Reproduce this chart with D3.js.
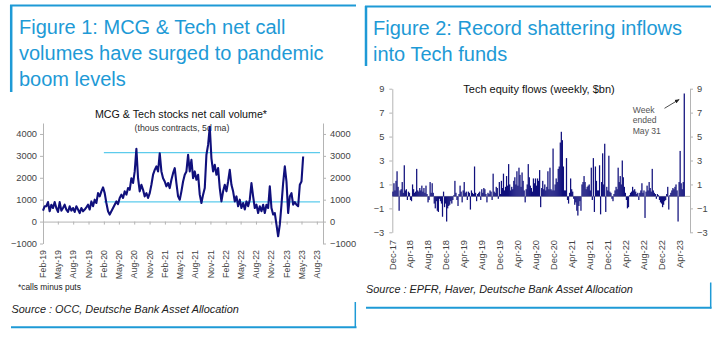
<!DOCTYPE html>
<html><head><meta charset="utf-8">
<script src="https://cdn.jsdelivr.net/npm/d3@7"></script>
<style>
html,body{margin:0;padding:0;background:#fff;}
svg{display:block;font-family:"Liberation Sans",Arial,Helvetica,sans-serif;}
</style></head><body>
<svg id="c" width="720" height="337"></svg>
<script>
// ---------- Figure 1 data ----------
const fig1TitleLines = ["Figure 1: MCG & Tech net call", "volumes have surged to pandemic", "boom levels"];
const callTitle = "MCG & Tech stocks net call volume*";
const callSubtitle = "(thous contracts, 5d ma)";
const callTickLabels = ["Feb-19","May-19","Aug-19","Nov-19","Feb-20","May-20","Aug-20","Nov-20","Feb-21","May-21","Aug-21","Nov-21","Feb-22","May-22","Aug-22","Nov-22","Feb-23","May-23","Aug-23"];
const callYTicks = [-1000, 0, 1000, 2000, 3000, 4000];
const callStart = "2019-02-01";
const callStepDays = 10;
const callVolume = [
 500,700,700,890,470,770,620,890,620,440,
 890,500,620,770,550,440,700,500,620,440,
 700,550,390,620,470,550,650,770,550,920,
 700,1000,850,1300,1150,1380,1560,1300,850,470,
 320,470,620,770,920,800,1080,1230,1080,1380,
 1230,1530,1450,1980,1760,2290,3320,1980,1380,1680,
 1450,1150,1300,1080,1300,1680,2140,2360,2520,2290,
 3120,2290,1980,1830,1610,1760,1530,1910,2210,2440,
 1760,1150,1000,1380,1830,2140,2290,3050,
 2290,2820,1980,2290,1910,2140,1230,850,1230,1530,
 3050,3500,4330,2890,2290,2590,2140,2440,1530,920,
 1380,1680,1380,1830,2360,1680,1380,920,1150,700,
 1000,620,850,550,920,700,1000,1760,1150,620,
 770,390,700,470,770,390,770,620,1610,620,
 320,390,-140,-670,-140,770,1760,2520,1830,390,
 1150,1300,770,890,770,700,1680,1830,2970
];
const callBandLevels = [3150, 900];
const callBandFrom = "2020-02-01";
const callBandTo = "2023-08-20";
const callFootnote = "*calls minus puts";
const callSource = "Source : OCC, Deutsche Bank Asset Allocation";

// ---------- Figure 2 data ----------
const fig2TitleLines = ["Figure 2: Record shattering inflows", "into Tech funds"];
const flowTitle = "Tech equity flows (weekly, $bn)";
const flowTickLabels = ["Dec-17","Apr-18","Aug-18","Dec-18","Apr-19","Aug-19","Dec-19","Apr-20","Aug-20","Dec-20","Apr-21","Aug-21","Dec-21","Apr-22","Aug-22","Dec-22","Apr-23"];
const flowYTicks = [-3, -1, 1, 3, 5, 7, 9];
const flowStart = "2017-12-01";
const flowStepDays = 7;
const flowValues = [
 0.4,1.1,0.5,1.3,2.1,0.8,-1.2,0.5,0.6,1.2,
 0.3,2.6,0.5,0.6,-0.3,0.4,0.3,-0.3,-0.4,1.0,
 0.6,0.3,0.4,2.3,0.5,0.4,0.7,0.5,0.9,0.4,
 0.7,0.3,0.9,0.2,-0.5,-0.3,1.2,0.3,1.1,0.3,
 -0.6,-1.0,-0.4,-1.2,-1.3,-0.2,-0.4,-0.6,-1.7,0.4,
 -0.9,-0.6,-2.1,-1.0,-0.8,-0.7,-0.4,-0.6,-0.3,0.1,
 1.3,0.3,-0.3,-0.8,0.2,0.9,0.4,-0.5,0.5,1.2,
 0.3,0.4,-0.3,0.4,0.3,
 -1.1,0.5,0.3,0.2,2.5,0.3,-0.4,0.2,0.3,0.4,
 -0.3,0.6,0.3,0.7,0.6,0.2,-0.5,0.3,0.2,0.5,
 0.4,-0.3,1.9,0.4,0.3,0.8,0.7,-0.2,1.2,0.2,
 1.3,0.7,1.9,0.5,0.8,1.7,0.9,2.7,1.0,0.5,
 0.8,0.6,1.3,1.6,1.0,2.1,0.9,2.4,1.8,0.8,
 2.0,1.3,0.5,-0.5,0.6,1.0,2.7,1.6,0.9,0.7,
 0.4,1.5,1.1,1.5,0.9,1.5,1.3,2.2,-0.9,0.7,
 1.3,0.6,1.0,0.5,0.8,2.1,0.6,2.4,0.6,0.5,
 4.0,0.5,1.0,1.5,1.2,2.3,2.5,4.5,5.4,4.7,
 2.5,0.5,0.5,3.2,-0.3,-0.6,0.3,1.5,0.6,0.4,
 -0.2,-0.7,-0.5,-1.2,-1.6,-0.8,-0.4,-1.2,1.0,1.2,
 1.7,1.2,0.6,0.8,0.9,1.0,
 0.5,2.4,-0.3,3.2,-1.3,2.5,1.3,0.5,0.5,2.6,
 -1.5,1.2,3.6,1.0,4.4,-1.3,0.8,0.5,3.4,0.4,
 0.3,-0.2,-0.4,0.2,0.5,0.8,0.6,2.4,1.2,1.7,
 1.0,3.0,1.6,0.8,0.3,-0.3,-1.0,-0.9,0.1,0.3,
 0.4,0.8,0.5,0.6,0.4,0.2,0.3,-0.3,0.3,0.5,
 1.1,0.3,0.5,-1.8,0.4,0.9,0.5,1.2,0.7,0.4,
 2.3,0.5,0.3,0.2,-0.2,0.2,0.1,-0.3,-0.5,-0.6,
 -0.9,-0.7,-0.4,-0.3,0.2,0.8,-1.1,0.1,0.3,0.5,
 0.7,0.6,0.8,1.0,0.5,-2.1,1.2,3.8,1.1,0.6,
 1.2,8.6
];
const flowNoteLines = ["Week", "ended", "May 31"];
const flowSource = "Source : EPFR, Haver, Deutsche Bank Asset Allocation";

// ---------- styles ----------
const DB_BLUE = "#1e9ad6";
const NAVY = "#10107c";
const CYAN = "#5ccbec";
const AXIS = "#b4b4b4";
const LABEL = "#444";

const svg = d3.select("#c");
svg.append("rect").attr("width", 720).attr("height", 337).attr("fill", "#fff");
const parseISO = d3.timeParse("%Y-%m-%d");
const parseMon = d3.timeParse("%b-%y");

function styleAxis(g, size) {
  g.select(".domain").attr("stroke", AXIS);
  g.selectAll(".tick line").attr("stroke", AXIS);
  g.selectAll(".tick text").attr("fill", LABEL).style("font-size", size + "px");
}

// ================= Figure 1 =================
{
  const p = svg.append("g");
  p.append("line").attr("x1", 10).attr("x2", 356).attr("y1", 5.5).attr("y2", 5.5).attr("stroke", DB_BLUE).attr("stroke-width", 2);
  p.append("line").attr("x1", 11.2).attr("x2", 11.2).attr("y1", 5).attr("y2", 92).attr("stroke", DB_BLUE).attr("stroke-width", 2.5);
  p.selectAll("text.t").data(fig1TitleLines).join("text")
    .attr("x", 19).attr("y", (d, i) => 33.5 + i * 26)
    .attr("fill", DB_BLUE).style("font-size", "20px").text(d => d);

  const dates = callVolume.map((v, i) => d3.timeDay.offset(parseISO(callStart), i * callStepDays));
  const x = d3.scaleTime().domain([parseISO("2019-02-01"), parseISO("2023-09-07")]).range([43, 323]);
  const y = d3.scaleLinear().domain([-1000, 4500]).range([243.5, 123]);

  p.append("text").attr("x", 181).attr("y", 117.5).attr("text-anchor", "middle")
    .attr("fill", "#111").style("font-size", "10.7px").text(callTitle);
  p.append("text").attr("x", 182).attr("y", 130.5).attr("text-anchor", "middle")
    .attr("fill", "#333").style("font-size", "8.8px").text(callSubtitle);

  const gl = p.append("g").attr("transform", "translate(43,0)")
    .call(d3.axisLeft(y).tickValues(callYTicks).tickSize(3).tickSizeOuter(0).tickPadding(3).tickFormat(d3.format("d")));
  styleAxis(gl, 9.3);
  const gr = p.append("g").attr("transform", "translate(323,0)")
    .call(d3.axisRight(y).tickValues(callYTicks).tickSize(3).tickSizeOuter(0).tickPadding(4).tickFormat(d3.format("d")));
  styleAxis(gr, 9.3);

  const tickDates = callTickLabels.map(parseMon);
  const gx = p.append("g").attr("transform", `translate(0,${y(0)})`)
    .call(d3.axisBottom(x).tickValues(tickDates).tickSize(3).tickSizeOuter(0).tickFormat(""));
  styleAxis(gx, 8.8);
  p.selectAll("text.xl").data(callTickLabels).join("text")
    .attr("transform", d => `translate(${x(parseMon(d))},250) rotate(-90)`)
    .attr("dy", "0.35em").attr("text-anchor", "end")
    .attr("fill", LABEL).style("font-size", "8.8px").text(d => d);

  p.selectAll("line.band").data(callBandLevels).join("line")
    .attr("x1", x(parseISO(callBandFrom))).attr("x2", x(parseISO(callBandTo)))
    .attr("y1", d => y(d)).attr("y2", d => y(d))
    .attr("stroke", CYAN).attr("stroke-width", 1.4);

  const line = d3.line().x((d, i) => x(dates[i])).y(d => y(d));
  p.append("path").datum(callVolume).attr("d", line)
    .attr("fill", "none").attr("stroke", NAVY).attr("stroke-width", 2.1).attr("stroke-linejoin", "round");

  p.append("text").attr("x", 18).attr("y", 289.5).attr("fill", "#222").style("font-size", "8.4px").text(callFootnote);
  p.append("text").attr("x", 11.5).attr("y", 312.5).attr("fill", "#222").style("font-size", "10.9px").style("font-style", "italic").text(callSource);
  p.append("line").attr("x1", 11).attr("x2", 356.5).attr("y1", 327.3).attr("y2", 327.3).attr("stroke", DB_BLUE).attr("stroke-width", 2);
  p.append("line").attr("x1", 355.3).attr("x2", 355.3).attr("y1", 302).attr("y2", 328).attr("stroke", DB_BLUE).attr("stroke-width", 1.5);
}

// ================= Figure 2 =================
{
  const p = svg.append("g");
  p.append("line").attr("x1", 365).attr("x2", 711).attr("y1", 6.5).attr("y2", 6.5).attr("stroke", DB_BLUE).attr("stroke-width", 2);
  p.append("line").attr("x1", 366).attr("x2", 366).attr("y1", 6).attr("y2", 66).attr("stroke", DB_BLUE).attr("stroke-width", 2.5);
  p.selectAll("text.t").data(fig2TitleLines).join("text")
    .attr("x", 373).attr("y", (d, i) => 34.5 + i * 26)
    .attr("fill", DB_BLUE).style("font-size", "20px").text(d => d);

  const dates = flowValues.map((v, i) => d3.timeDay.offset(parseISO(flowStart), i * flowStepDays));
  const x = d3.scaleTime().domain([parseISO("2017-12-01"), parseISO("2023-06-10")]).range([392.3, 690]);
  const y = d3.scaleLinear().domain([-3, 9]).range([232.3, 88.7]);

  p.append("text").attr("x", 539).attr("y", 93).attr("text-anchor", "middle")
    .attr("fill", "#111").style("font-size", "11px").text(flowTitle);

  const gl = p.append("g").attr("transform", "translate(392.3,0)")
    .call(d3.axisLeft(y).tickValues(flowYTicks).tickSize(3).tickSizeOuter(0).tickPadding(5));
  styleAxis(gl, 9.3);
  const gr = p.append("g").attr("transform", "translate(690,0)")
    .call(d3.axisRight(y).tickValues(flowYTicks).tickSize(3).tickSizeOuter(0).tickPadding(4));
  styleAxis(gr, 9.3);

  p.append("line").attr("x1", x.range()[0]).attr("x2", x.range()[1])
    .attr("y1", y(0)).attr("y2", y(0)).attr("stroke", AXIS).attr("stroke-width", 1);

  p.selectAll("rect.bar").data(flowValues).join("rect")
    .attr("x", (d, i) => x(dates[i]))
    .attr("width", 1.25)
    .attr("y", d => Math.min(y(d), y(0)))
    .attr("height", d => Math.abs(y(d) - y(0)))
    .attr("fill", NAVY);

  p.selectAll("text.xl").data(flowTickLabels).join("text")
    .attr("transform", d => `translate(${x(parseMon(d))},240) rotate(-90)`)
    .attr("dy", "0.35em").attr("text-anchor", "end")
    .attr("fill", LABEL).style("font-size", "9.3px").text(d => d);

  p.selectAll("text.note").data(flowNoteLines).join("text")
    .attr("x", 632.7).attr("y", (d, i) => 112.5 + i * 10.6)
    .attr("fill", "#555").style("font-size", "8.6px").text(d => d);

  svg.append("defs").append("marker").attr("id", "ah")
    .attr("viewBox", "0 0 10 10").attr("refX", 9).attr("refY", 5)
    .attr("markerWidth", 6).attr("markerHeight", 6).attr("orient", "auto")
    .append("path").attr("d", "M0,1 L10,5 L0,9 Z").attr("fill", "#222");
  const last = flowValues.length - 1;
  p.append("line").attr("x1", 664.5).attr("y1", 108.3)
    .attr("x2", x(dates[last]) - 4.5).attr("y2", y(flowValues[last]) + 6)
    .attr("stroke", "#222").attr("stroke-width", 0.8).attr("marker-end", "url(#ah)");

  p.append("text").attr("x", 366).attr("y", 293).attr("fill", "#222").style("font-size", "10.9px").style("font-style", "italic").text(flowSource);
  p.append("line").attr("x1", 366).attr("x2", 711.5).attr("y1", 307.7).attr("y2", 307.7).attr("stroke", DB_BLUE).attr("stroke-width", 2);
  p.append("line").attr("x1", 710.7).attr("x2", 710.7).attr("y1", 282.5).attr("y2", 308.5).attr("stroke", DB_BLUE).attr("stroke-width", 1.5);
}
</script>
</body></html>
